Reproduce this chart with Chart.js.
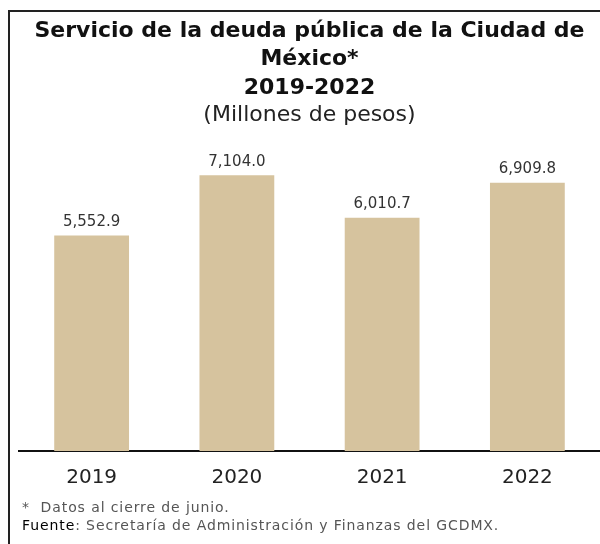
<!DOCTYPE html>
<html>
<head>
<meta charset="utf-8">
<script src="https://cdn.jsdelivr.net/npm/chart.js@4"></script>
<style>
  body { margin: 0; background: #fff; }
  #wrap { position: relative; width: 600px; height: 544px; overflow: hidden; background: #fff; }
  #frame { position: absolute; left: 8px; top: 10px; width: 640px; height: 600px; border: 2px solid #222; }
  #chartBox { position: absolute; left: 0; top: 0; width: 600px; height: 544px; }
  .note { position: absolute; left: 22px; font-family: "DejaVu Sans", sans-serif; font-size: 14px; letter-spacing: 0.9px; color: #555; white-space: nowrap; }
  .note b { color: #000; font-weight: 400; }
</style>
</head>
<body>
<div id="wrap">
  <div id="frame"></div>
  <div id="chartBox"><canvas id="deuda"></canvas></div>
  <div class="note" style="top:499px">*&nbsp; Datos al cierre de junio.</div>
  <div class="note" style="top:517px"><b>Fuente</b>: Secretaría de Administración y Finanzas del GCDMX.</div>
</div>
<script>
// datos (millones de pesos)
const years = ['2019', '2020', '2021', '2022'];
const servicio = [5552.9, 7104.0, 6010.7, 6909.8];

const fmt = v => v.toLocaleString('en-US', { minimumFractionDigits: 1, maximumFractionDigits: 1 });

// etiquetas de valor encima de cada barra
const valueLabels = {
    id: 'valueLabels',
    afterDatasetsDraw(chart) {
        const ctx = chart.ctx;
        ctx.save();
        ctx.font = '15px "DejaVu Sans", sans-serif';
        ctx.fillStyle = '#333';
        ctx.textAlign = 'center';
        ctx.textBaseline = 'bottom';
        chart.getDatasetMeta(0).data.forEach((bar, i) => {
            ctx.fillText(fmt(servicio[i]), bar.x, bar.y - 6);
        });
        ctx.restore();
    }
};

const ctx = document.getElementById('deuda').getContext('2d');
new Chart(ctx, {
    type: 'bar',
    data: {
        labels: years,
        datasets: [{
            data: servicio,
            backgroundColor: '#D6C39E',
            barPercentage: 0.515,
            categoryPercentage: 1
        }]
    },
    options: {
        responsive: true,
        maintainAspectRatio: false,
        animation: false,
        layout: { padding: { left: 19, right: 0, top: 17, bottom: 47 } },
        plugins: {
            legend: { display: false },
            tooltip: { enabled: false },
            title: {
                display: true,
                text: ['Servicio de la deuda pública de la Ciudad de', 'México*', '2019-2022'],
                color: '#111',
                font: { family: '"DejaVu Sans", sans-serif', size: 22, weight: 'bold', lineHeight: 1.29 },
                padding: { top: 0, bottom: 0 }
            },
            subtitle: {
                display: true,
                text: '(Millones de pesos)',
                color: '#222',
                font: { family: '"DejaVu Sans", sans-serif', size: 22, lineHeight: 1.2 },
                padding: { top: 0, bottom: 12 }
            }
        },
        scales: {
            x: {
                grid: { display: false },
                border: { display: true, color: '#111', width: 2 },
                ticks: { color: '#222', font: { family: '"DejaVu Sans", sans-serif', size: 20 }, padding: 7 }
            },
            y: {
                display: false,
                min: 0,
                max: 8000
            }
        }
    },
    plugins: [valueLabels]
});
</script>
</body>
</html>
